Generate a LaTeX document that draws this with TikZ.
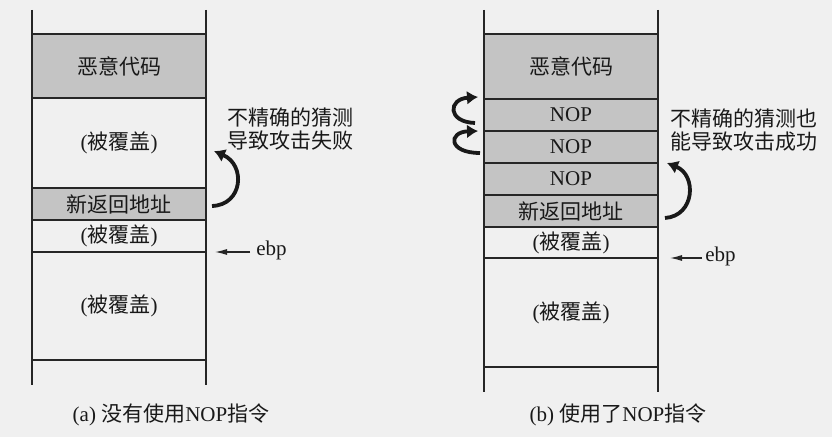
\documentclass[tikz,border=0pt]{standalone}
\usepackage{fontspec}
\setmainfont{Liberation Serif}
\newfontfamily\cjk{Noto Sans CJK SC}
\newcommand{\zh}[1]{{\cjk #1}}
\usetikzlibrary{positioning, calc, arrows.meta}

\tikzset{
  cell/.style={rectangle, draw=black!85, line width=0.7pt, minimum width=87pt, inner sep=0pt, outer sep=0pt},
  full/.style={cell, fill=black!23},
  note/.style={align=left, anchor=west, inner sep=0pt, font=\fontsize{10.5}{11.2}\selectfont},
  jump/.style={line width=1.9pt, black!90, -{Latex[length=5.5pt,width=7pt]}},
  wall/.style={line width=0.7pt, black!85}
}

\begin{document}
\begin{tikzpicture}[x=0.5pt, y=-0.5pt, node distance=0pt, every node/.append style={font=\fontsize{10.5}{12}\selectfont, text=black!90}]
			\fill[black!6] (0,0) rectangle (832,437);
			\useasboundingbox (0,0) rectangle (832,437);

			% (a) stack without NOP
			\node[full, anchor=north west, minimum height=32pt] (codeA) at (32,34) {\zh{恶意代码}};
			\node[cell, below=of codeA, minimum height=45pt] (overAa) {(\zh{被覆盖})};
			\node[full, below=of overAa, minimum height=16pt] (retA) {\zh{新返回地址}};
			\node[cell, below=of retA, minimum height=16pt] (overAb) {(\zh{被覆盖})};
			\node[cell, below=of overAb, minimum height=54pt] (overAc) {(\zh{被覆盖})};
			\draw[wall] ($(codeA.north west)+(0,-24)$) -- ($(overAc.south west)+(0,25)$);
			\draw[wall] ($(codeA.north east)+(0,-24)$) -- ($(overAc.south east)+(0,25)$);

			\node[note] (noteA) at (227,129) {\zh{不精确的猜测}\\\zh{导致攻击失败}};
			\coordinate (fromA) at ($(retA.east)+(6,2)$);
			\coordinate (toA) at ($(overAa.east)+(8,8)$);
			\draw[jump] (fromA) .. controls ($(fromA)+(31,-1)$) and ($(toA)+(32,14)$) .. (toA);

			\node[anchor=west, inner sep=0pt] (ebpA) at (256,250) {ebp};
			\coordinate (ptrA) at ($(overAb.south east)+(9,0)$);
			\draw[black!85, line width=0.6pt, -{Latex[length=6pt,width=3pt]}] (ebpA.west |- ptrA) ++(-6,0) -- (ptrA);

			\node (capA) at (171,415) {(a) \zh{没有使用}NOP\zh{指令}};

			% (b) stack with NOP sled
			\node[full, anchor=north west, minimum height=32.5pt] (codeB) at (484,34) {\zh{恶意代码}};
			\node[full, below=of codeB, minimum height=16pt] (nopA) {NOP};
			\node[full, below=of nopA, minimum height=16pt] (nopB) {NOP};
			\node[full, below=of nopB, minimum height=16pt] (nopC) {NOP};
			\node[full, below=of nopC, minimum height=16pt] (retB) {\zh{新返回地址}};
			\node[cell, below=of retB, minimum height=15.5pt] (overBa) {(\zh{被覆盖})};
			\node[cell, below=of overBa, minimum height=54.5pt] (overBb) {(\zh{被覆盖})};
			\draw[wall] ($(codeB.north west)+(0,-24)$) -- ($(overBb.south west)+(0,25)$);
			\draw[wall] ($(codeB.north east)+(0,-24)$) -- ($(overBb.south east)+(0,25)$);

			\node[note] (noteB) at (670,130) {\zh{不精确的猜测也}\\\zh{能导致攻击成功}};
			\coordinate (fromB) at ($(retB.east)+(7,7)$);
			\coordinate (toB) at ($(nopC.north east)+(9,0)$);
			\draw[jump] (fromB) .. controls ($(fromB)+(30,-2)$) and ($(toB)+(30,12)$) .. (toB);

			\coordinate (slideA) at ($(nopB.west)+(-4,6)$);
			\coordinate (slideB) at ($(nopB.north west)+(-6,0)$);
			\coordinate (slideC) at ($(nopA.west)+(-9,8)$);
			\coordinate (slideD) at ($(nopA.north west)+(-6,-2)$);
			\draw[jump] (slideA) .. controls ($(slideA)+(-32,0)$) and ($(slideB)+(-30,1)$) .. (slideB);
			\draw[jump] (slideC) .. controls ($(slideC)+(-28,-1)$) and ($(slideD)+(-30,2)$) .. (slideD);

			\node[anchor=west, inner sep=0pt] (ebpB) at (705,256) {ebp};
			\coordinate (ptrB) at ($(overBa.south east)+(12,0)$);
			\draw[black!85, line width=0.6pt, -{Latex[length=6pt,width=3pt]}] (ebpB.west |- ptrB) ++(-3,0) -- (ptrB);

			\node (capB) at (618,415) {(b) \zh{使用了}NOP\zh{指令}};
		\end{tikzpicture}
\end{document}
